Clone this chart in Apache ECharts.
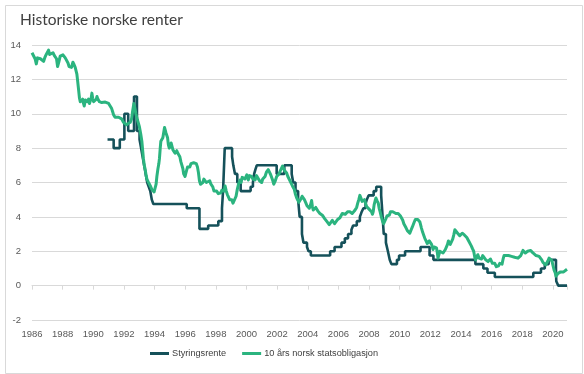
<!DOCTYPE html>
<html>
<head>
<meta charset="utf-8">
<script src="https://cdn.jsdelivr.net/npm/echarts@6/dist/echarts.min.js"></script>
<style>html,body{margin:0;padding:0;background:#fff;}#chart{width:584px;height:374px;}</style>
</head>
<body>
<div id="chart"></div>
<script>
const styrYears = [1990.93, 1991.33, 1991.73, 1992.03, 1992.28, 1992.66, 1992.85, 1993.02, 1993.12, 1993.22, 1993.32, 1993.42, 1993.52, 1993.62, 1993.72, 1993.82, 1993.92, 1996.1, 1996.93, 1997.5, 1998.16, 1998.4, 1998.47, 1998.58, 1999.06, 1999.14, 1999.25, 1999.4, 1999.62, 2000.27, 2000.42, 2000.5, 2000.58, 2000.67, 2001.97, 2002.47, 2002.95, 2003.05, 2003.2, 2003.37, 2003.47, 2003.62, 2003.72, 2003.95, 2004.05, 2004.2, 2005.46, 2005.75, 2006.2, 2006.42, 2006.63, 2006.85, 2006.96, 2007.2, 2007.4, 2007.5, 2007.63, 2007.77, 2007.85, 2007.97, 2008.3, 2008.47, 2008.79, 2008.83, 2008.96, 2009.1, 2009.23, 2009.35, 2009.46, 2009.82, 2009.96, 2010.35, 2011.36, 2011.95, 2012.2, 2014.94, 2015.46, 2015.73, 2016.21, 2018.72, 2019.22, 2019.47, 2019.72, 2020.2, 2020.22, 2020.35, 2020.92];
const styrValues = [8.5, 8.0, 8.5, 10.0, 9.0, 11.0, 9.0, 8.5, 8.0, 7.5, 7.0, 6.5, 6.0, 5.75, 5.5, 5.0, 4.75, 4.5, 3.3, 3.5, 3.75, 4.5, 5.5, 8.0, 7.5, 7.0, 6.5, 6.0, 5.5, 5.75, 6.0, 6.5, 6.75, 7.0, 6.5, 7.0, 6.5, 6.0, 5.5, 5.0, 4.0, 3.0, 2.5, 2.25, 2.0, 1.75, 2.0, 2.25, 2.5, 2.75, 3.0, 3.25, 3.5, 3.75, 4.0, 4.25, 4.5, 4.75, 5.0, 5.25, 5.5, 5.75, 5.25, 4.75, 3.0, 2.5, 2.0, 1.5, 1.25, 1.5, 1.75, 2.0, 2.25, 1.75, 1.5, 1.25, 1.0, 0.75, 0.5, 0.75, 1.0, 1.25, 1.5, 1.0, 0.25, 0.0, 0.0];

const bondYears = [1986.0, 1986.1, 1986.2, 1986.28, 1986.36, 1986.45, 1986.55, 1986.65, 1986.76, 1986.85, 1986.93, 1987.0, 1987.08, 1987.15, 1987.25, 1987.37, 1987.45, 1987.52, 1987.6, 1987.67, 1987.75, 1987.84, 1987.93, 1988.02, 1988.1, 1988.17, 1988.28, 1988.35, 1988.42, 1988.5, 1988.58, 1988.67, 1988.75, 1988.82, 1988.88, 1988.93, 1988.98, 1989.04, 1989.1, 1989.15, 1989.22, 1989.3, 1989.36, 1989.41, 1989.48, 1989.54, 1989.62, 1989.69, 1989.75, 1989.8, 1989.86, 1989.91, 1989.96, 1990.02, 1990.08, 1990.13, 1990.2, 1990.24, 1990.3, 1990.34, 1990.4, 1990.45, 1990.55, 1990.67, 1990.78, 1990.89, 1991.0, 1991.1, 1991.2, 1991.27, 1991.32, 1991.42, 1991.54, 1991.65, 1991.76, 1991.85, 1991.97, 1992.05, 1992.17, 1992.3, 1992.41, 1992.5, 1992.56, 1992.65, 1992.72, 1992.78, 1992.88, 1993.01, 1993.1, 1993.17, 1993.27, 1993.33, 1993.39, 1993.45, 1993.5, 1993.58, 1993.67, 1993.75, 1993.82, 1993.9, 1993.97, 1994.04, 1994.1, 1994.15, 1994.22, 1994.28, 1994.32, 1994.37, 1994.41, 1994.47, 1994.54, 1994.6, 1994.65, 1994.69, 1994.74, 1994.8, 1994.85, 1994.9, 1994.96, 1995.02, 1995.08, 1995.13, 1995.2, 1995.28, 1995.34, 1995.45, 1995.52, 1995.58, 1995.65, 1995.72, 1995.78, 1995.85, 1995.9, 1995.99, 1996.06, 1996.15, 1996.21, 1996.3, 1996.38, 1996.45, 1996.55, 1996.65, 1996.72, 1996.8, 1996.86, 1996.93, 1997.0, 1997.08, 1997.15, 1997.22, 1997.3, 1997.38, 1997.45, 1997.51, 1997.6, 1997.68, 1997.73, 1997.8, 1997.88, 1997.95, 1998.05, 1998.16, 1998.25, 1998.32, 1998.39, 1998.47, 1998.54, 1998.6, 1998.68, 1998.75, 1998.82, 1998.9, 1998.97, 1999.04, 1999.12, 1999.2, 1999.25, 1999.32, 1999.4, 1999.48, 1999.58, 1999.65, 1999.72, 1999.8, 1999.9, 2000.02, 2000.08, 2000.12, 2000.2, 2000.28, 2000.34, 2000.42, 2000.5, 2000.56, 2000.65, 2000.72, 2000.77, 2000.85, 2000.92, 2000.99, 2001.06, 2001.14, 2001.21, 2001.3, 2001.36, 2001.42, 2001.5, 2001.58, 2001.65, 2001.72, 2001.78, 2001.82, 2001.88, 2001.97, 2002.05, 2002.12, 2002.19, 2002.28, 2002.35, 2002.4, 2002.48, 2002.55, 2002.62, 2002.7, 2002.77, 2002.84, 2002.92, 2003.0, 2003.05, 2003.12, 2003.2, 2003.28, 2003.36, 2003.42, 2003.49, 2003.56, 2003.63, 2003.7, 2003.78, 2003.88, 2003.95, 2004.03, 2004.1, 2004.18, 2004.25, 2004.3, 2004.36, 2004.45, 2004.52, 2004.58, 2004.65, 2004.72, 2004.79, 2004.88, 2004.95, 2005.01, 2005.1, 2005.18, 2005.23, 2005.32, 2005.4, 2005.45, 2005.52, 2005.6, 2005.66, 2005.75, 2005.82, 2005.88, 2005.95, 2006.02, 2006.1, 2006.18, 2006.25, 2006.31, 2006.38, 2006.45, 2006.53, 2006.6, 2006.68, 2006.75, 2006.82, 2006.9, 2006.97, 2007.05, 2007.12, 2007.19, 2007.26, 2007.33, 2007.4, 2007.47, 2007.55, 2007.62, 2007.7, 2007.77, 2007.84, 2007.92, 2008.0, 2008.08, 2008.16, 2008.22, 2008.27, 2008.33, 2008.4, 2008.45, 2008.52, 2008.6, 2008.66, 2008.72, 2008.8, 2008.88, 2008.95, 2009.03, 2009.1, 2009.17, 2009.24, 2009.32, 2009.4, 2009.47, 2009.55, 2009.62, 2009.68, 2009.75, 2009.82, 2009.9, 2009.97, 2010.05, 2010.12, 2010.2, 2010.27, 2010.34, 2010.42, 2010.5, 2010.58, 2010.66, 2010.75, 2010.82, 2010.88, 2010.95, 2011.02, 2011.1, 2011.18, 2011.26, 2011.32, 2011.42, 2011.5, 2011.58, 2011.64, 2011.72, 2011.8, 2011.86, 2011.93, 2012.01, 2012.08, 2012.18, 2012.25, 2012.33, 2012.4, 2012.46, 2012.5, 2012.56, 2012.62, 2012.66, 2012.75, 2012.83, 2012.9, 2012.98, 2013.05, 2013.12, 2013.18, 2013.22, 2013.3, 2013.38, 2013.46, 2013.53, 2013.6, 2013.7, 2013.78, 2013.85, 2013.92, 2014.0, 2014.08, 2014.13, 2014.22, 2014.3, 2014.38, 2014.46, 2014.53, 2014.6, 2014.68, 2014.75, 2014.83, 2014.9, 2014.95, 2015.02, 2015.1, 2015.18, 2015.26, 2015.34, 2015.42, 2015.5, 2015.55, 2015.62, 2015.7, 2015.77, 2015.85, 2015.92, 2015.99, 2016.05, 2016.12, 2016.2, 2016.26, 2016.31, 2016.38, 2016.45, 2016.53, 2016.6, 2016.68, 2016.75, 2016.81, 2016.88, 2016.95, 2017.02, 2017.1, 2017.2, 2017.3, 2017.4, 2017.5, 2017.6, 2017.72, 2017.8, 2017.9, 2017.98, 2018.05, 2018.12, 2018.2, 2018.27, 2018.35, 2018.45, 2018.55, 2018.62, 2018.7, 2018.8, 2018.9, 2019.0, 2019.1, 2019.2, 2019.27, 2019.35, 2019.42, 2019.53, 2019.6, 2019.68, 2019.75, 2019.83, 2019.93, 2020.0, 2020.08, 2020.15, 2020.2, 2020.25, 2020.33, 2020.4, 2020.5, 2020.6, 2020.7, 2020.8, 2020.92];
const bondValues = [13.55, 13.5, 13.2, 12.9, 13.25, 13.35, 13.2, 13.3, 13.05, 13.3, 13.45, 13.4, 13.7, 13.45, 13.5, 13.55, 13.4, 13.5, 13.2, 12.75, 13.0, 13.35, 13.4, 13.43, 13.35, 13.25, 13.15, 12.95, 12.75, 12.8, 12.7, 13.0, 12.85, 12.7, 12.6, 12.3, 11.9, 11.4, 10.9, 10.7, 10.8, 10.85, 10.6, 10.45, 10.8, 10.8, 10.7, 10.85, 10.6, 10.55, 10.9, 11.2, 10.9, 10.7, 10.75, 10.6, 10.85, 11.0, 10.85, 10.8, 10.7, 10.72, 10.65, 10.6, 10.68, 10.7, 10.6, 10.5, 10.3, 10.1, 9.95, 9.8, 9.75, 9.8, 9.85, 9.7, 9.5, 9.6, 9.36, 9.3, 9.5, 9.7, 10.1, 10.6, 10.3, 10.0, 9.65, 9.25, 8.8, 8.4, 7.4, 7.0, 6.75, 6.4, 6.2, 6.05, 5.95, 5.75, 5.6, 5.5, 5.45, 5.45, 5.9, 6.35, 6.8, 7.1, 7.4, 8.0, 8.4, 8.3, 8.6, 8.7, 9.2, 9.25, 8.9, 8.9, 8.6, 8.2, 8.0, 8.1, 8.3, 8.25, 7.9, 7.8, 7.7, 7.85, 7.7, 7.8, 7.5, 7.2, 7.1, 6.8, 6.5, 6.35, 6.6, 6.9, 7.0, 6.9, 7.1, 7.0, 7.15, 7.25, 7.1, 6.9, 6.6, 6.1, 5.9, 5.8, 6.0, 6.2, 6.2, 6.0, 6.1, 6.0, 6.1, 5.9, 5.8, 5.75, 5.5, 5.4, 5.5, 5.35, 5.45, 5.4, 5.55, 5.6, 5.5, 5.8, 5.5, 5.3, 5.3, 5.0, 4.95, 5.0, 4.8, 4.9, 4.8, 5.2, 5.6, 5.9, 6.15, 6.0, 6.3, 6.35, 6.2, 6.45, 6.3, 6.15, 6.4, 6.3, 6.35, 6.2, 6.3, 6.15, 6.4, 6.3, 6.35, 6.1, 6.2, 6.0, 6.2, 6.3, 6.35, 6.6, 6.5, 6.75, 6.6, 6.45, 6.35, 6.1, 5.9, 5.8, 6.1, 6.35, 6.3, 6.5, 6.65, 6.7, 6.95, 6.95, 6.7, 6.75, 6.55, 6.35, 6.3, 6.1, 5.95, 5.8, 5.75, 5.6, 5.3, 5.1, 5.0, 4.85, 4.95, 5.05, 5.2, 5.15, 5.0, 4.8, 4.65, 4.6, 4.5, 4.7, 4.95, 4.6, 4.4, 4.5, 4.55, 4.45, 4.35, 4.3, 4.2, 4.15, 4.1, 4.0, 3.9, 3.8, 3.75, 3.65, 3.55, 3.5, 3.6, 3.8, 3.75, 3.6, 3.55, 3.65, 3.85, 3.9, 3.95, 4.05, 4.2, 4.3, 4.25, 4.15, 4.2, 4.3, 4.2, 4.3, 4.25, 4.2, 4.25, 4.35, 4.45, 4.55, 4.8, 5.0, 5.25, 5.1, 4.9, 4.85, 5.0, 4.8, 4.6, 4.55, 4.45, 4.35, 4.3, 4.15, 4.3, 4.7, 4.95, 5.1, 4.95, 4.8, 4.5, 4.3, 4.0, 3.75, 3.6, 3.65, 3.9, 4.05, 4.15, 4.1, 4.3, 4.4, 4.3, 4.35, 4.3, 4.2, 4.25, 4.2, 4.1, 4.05, 4.0, 3.8, 3.6, 3.55, 3.35, 3.2, 3.15, 3.05, 3.25, 3.4, 3.5, 3.7, 3.85, 3.95, 3.85, 3.75, 3.7, 3.35, 3.1, 2.9, 2.75, 2.6, 2.45, 2.45, 2.6, 2.65, 2.4, 2.1, 2.25, 2.15, 2.2, 1.9, 1.6, 1.8, 2.0, 2.1, 1.95, 1.9, 2.0, 2.1, 2.2, 2.4, 2.6, 2.65, 2.4, 2.35, 2.7, 2.95, 3.25, 3.2, 3.05, 2.95, 2.9, 3.0, 3.05, 3.05, 2.95, 2.9, 2.8, 2.7, 2.55, 2.45, 2.3, 2.15, 2.0, 1.65, 1.5, 1.6, 1.8, 1.6, 1.5, 1.55, 1.75, 1.8, 1.7, 1.5, 1.55, 1.4, 1.45, 1.55, 1.5, 1.3, 1.2, 1.3, 1.2, 1.1, 1.05, 1.15, 1.3, 1.2, 1.25, 1.55, 1.75, 1.8, 1.75, 1.7, 1.75, 1.65, 1.7, 1.7, 1.65, 1.6, 1.6, 1.65, 1.75, 1.9, 2.05, 1.95, 1.9, 1.9, 2.0, 2.0, 2.05, 2.05, 1.9, 1.85, 1.75, 1.7, 1.7, 1.6, 1.5, 1.35, 1.35, 1.2, 1.3, 1.45, 1.6, 1.5, 1.45, 1.5, 0.9, 0.75, 0.55, 0.6, 0.7, 0.75, 0.8, 0.75, 0.8, 0.85, 0.95];

const seriesNames = ['Styringsrente', '10 års norsk statsobligasjon'];
const titleText = 'Historiske norske renter';

const styrData = styrYears.map((y, i) => [y, styrValues[i]]);
const bondData = bondYears.map((y, i) => [y, bondValues[i]]);

const chart = echarts.init(document.getElementById('chart'), null, {renderer: 'canvas'});
const FONT = 'Liberation Sans';
chart.setOption({
  animation: false,
  backgroundColor: '#ffffff',
  title: {
    text: titleText, left: 15, top: 7,
    textStyle: {fontFamily: 'Lato', fontSize: 15.5, fontWeight: 'normal', color: '#404040'}
  },
  graphic: [{
    type: 'rect', left: 3, top: 3, silent: true,
    shape: {x: 0, y: 0, width: 577, height: 368},
    style: {fill: 'none', stroke: '#d9d9d9', lineWidth: 1}
  }],
  legend: {
    top: 349, left: 150, icon: 'rect', itemWidth: 19, itemHeight: 3, itemGap: 16,
    padding: 0,
    textStyle: {fontFamily: FONT, fontSize: 9.2, color: '#404040', padding: [0, 0, 0, -2]},
    data: seriesNames
  },
  grid: {left: 32, right: 17, top: 45, bottom: 54, containLabel: false, outerBoundsMode: 'none'},
  xAxis: [{
    type: 'value', min: 1986, max: 2020.92, interval: 2, position: 'bottom',
    axisLine: {show: false, onZero: false}, axisTick: {show: false}, splitLine: {show: false},
    axisLabel: {
      color: '#595959', fontFamily: FONT, fontSize: 9.5, margin: 9,
      showMaxLabel: false,
      formatter: v => (Math.abs(v - Math.round(v)) < 1e-6 && Math.round(v) % 2 === 0) ? String(Math.round(v)) : ''
    }
  }, {
    type: 'value', min: 1986, max: 2020.92, interval: 2,
    axisLine: {show: true, onZero: true, lineStyle: {color: '#d9d9d9', width: 1}},
    axisTick: {show: true, inside: true, length: 4, lineStyle: {color: '#d9d9d9'}},
    axisLabel: {show: false}, splitLine: {show: false}
  }],
  yAxis: {
    type: 'value', min: -2, max: 14, interval: 2,
    axisLine: {show: false}, axisTick: {show: false},
    splitLine: {lineStyle: {color: '#d9d9d9', width: 1}},
    axisLabel: {color: '#595959', fontFamily: FONT, fontSize: 9.5, margin: 11}
  },
  series: [{
    name: seriesNames[0], type: 'line', step: 'end', xAxisIndex: 0,
    data: styrData, showSymbol: false, symbol: 'none', z: 2,
    lineStyle: {color: '#15515a', width: 2.6}, itemStyle: {color: '#15515a'}
  }, {
    name: seriesNames[1], type: 'line', xAxisIndex: 0,
    data: bondData, showSymbol: false, symbol: 'none', z: 3,
    lineStyle: {color: '#2bb47f', width: 3, join: 'round'}, itemStyle: {color: '#2bb47f'}
  }]
});
</script>
</body>
</html>
